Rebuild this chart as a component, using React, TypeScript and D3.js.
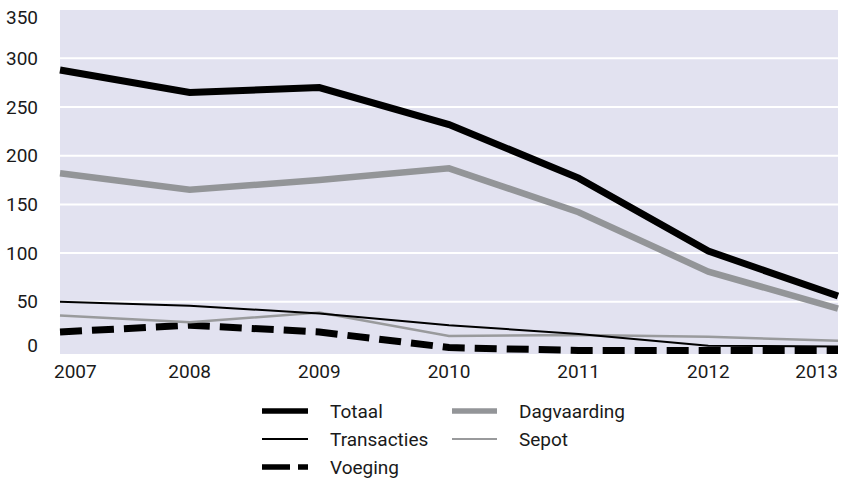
import React from "react";
import * as d3 from "d3";

const years = [2007, 2008, 2009, 2010, 2011, 2012, 2013];
const totaal = [288, 265, 270, 232, 177, 102, 56];
const dagvaarding = [182, 165, 175, 187, 142, 81, 43];
const transacties = [50, 46, 38, 26, 17, 5, 4];
const sepot = [36, 29, 39, 15, 16, 14, 10];
const voeging = [19, 26, 19, 3, 0, 0, 0];
const yTicks = [0, 50, 100, 150, 200, 250, 300, 350];

const seriesList = [
  { name: "Voeging", values: voeging, color: "#000", width: 7, dash: "22 10", legendDash: "28 8" },
  { name: "Sepot", values: sepot, color: "#999a9c", width: 2.5, dash: null, legendDash: null },
  { name: "Transacties", values: transacties, color: "#000", width: 2, dash: null, legendDash: null },
  { name: "Dagvaarding", values: dagvaarding, color: "#939598", width: 6.5, dash: null, legendDash: null },
  { name: "Totaal", values: totaal, color: "#000", width: 7, dash: null, legendDash: null },
];

const legendOrder = [
  { name: "Totaal", col: 0, row: 0 },
  { name: "Dagvaarding", col: 1, row: 0 },
  { name: "Transacties", col: 0, row: 1 },
  { name: "Sepot", col: 1, row: 1 },
  { name: "Voeging", col: 0, row: 2 },
];

export default function App() {
  const W = 841, H = 479;
  const left = 60, right = 838, top = 10, bottom = 354;
  const x = d3.scalePoint<number>().domain(years).range([left, right]);
  const y = d3.scaleLinear().domain([0, 350]).range([350.5, 9.6]);
  const line = (vals: number[]) =>
    d3.line<number>().x((_, i) => x(years[i]) as number).y((v) => y(v))(vals) || "";
  const font = "Roboto, 'Noto Sans', sans-serif";
  const fs = 19;

  return (
    <svg width={W} height={H} style={{ position: "absolute", left: 0, top: 0 }} fontFamily={font}>
      <rect x={left} y={top} width={right - left} height={bottom - top} fill="#e2e2f0" />
      {yTicks.filter((t) => t > 0 && t < 350).map((t) => (
        <line key={t} x1={left} x2={right} y1={y(t)} y2={y(t)} stroke="#fff" strokeWidth={2} />
      ))}
      {yTicks.map((t) => (
        <text key={t} x={38} y={Math.min(345, Math.max(17, y(t)))} textAnchor="end" dominantBaseline="central" fontSize={fs} fill="#1a1a1a">
          {t}
        </text>
      ))}
      {years.map((yr, i) => (
        <text
          key={yr}
          x={i === 0 ? 54 : i === years.length - 1 ? 838 : (x(yr) as number)}
          y={371}
          textAnchor={i === 0 ? "start" : i === years.length - 1 ? "end" : "middle"}
          dominantBaseline="central"
          fontSize={fs}
          fill="#1a1a1a"
        >
          {yr}
        </text>
      ))}
      {seriesList.map((s) => (
        <path
          key={s.name}
          d={line(s.values)}
          fill="none"
          stroke={s.color}
          strokeWidth={s.width}
          strokeDasharray={s.dash || undefined}
        />
      ))}
      {legendOrder.map((l) => {
        const s = seriesList.find((d) => d.name === l.name)!;
        const sx = l.col === 0 ? 262 : 452;
        const sw = l.col === 0 ? 46 : 45;
        const tx = l.col === 0 ? 330 : 519;
        const ly = 411 + l.row * 28;
        return (
          <g key={l.name}>
            <line
              x1={sx}
              x2={sx + sw}
              y1={ly}
              y2={ly}
              stroke={s.color}
              strokeWidth={s.width >= 6 ? 5.5 : 2.2}
              strokeDasharray={s.legendDash || undefined}
            />
            <text x={tx} y={ly} dominantBaseline="central" fontSize={fs} fill="#1a1a1a">
              {l.name}
            </text>
          </g>
        );
      })}
    </svg>
  );
}
